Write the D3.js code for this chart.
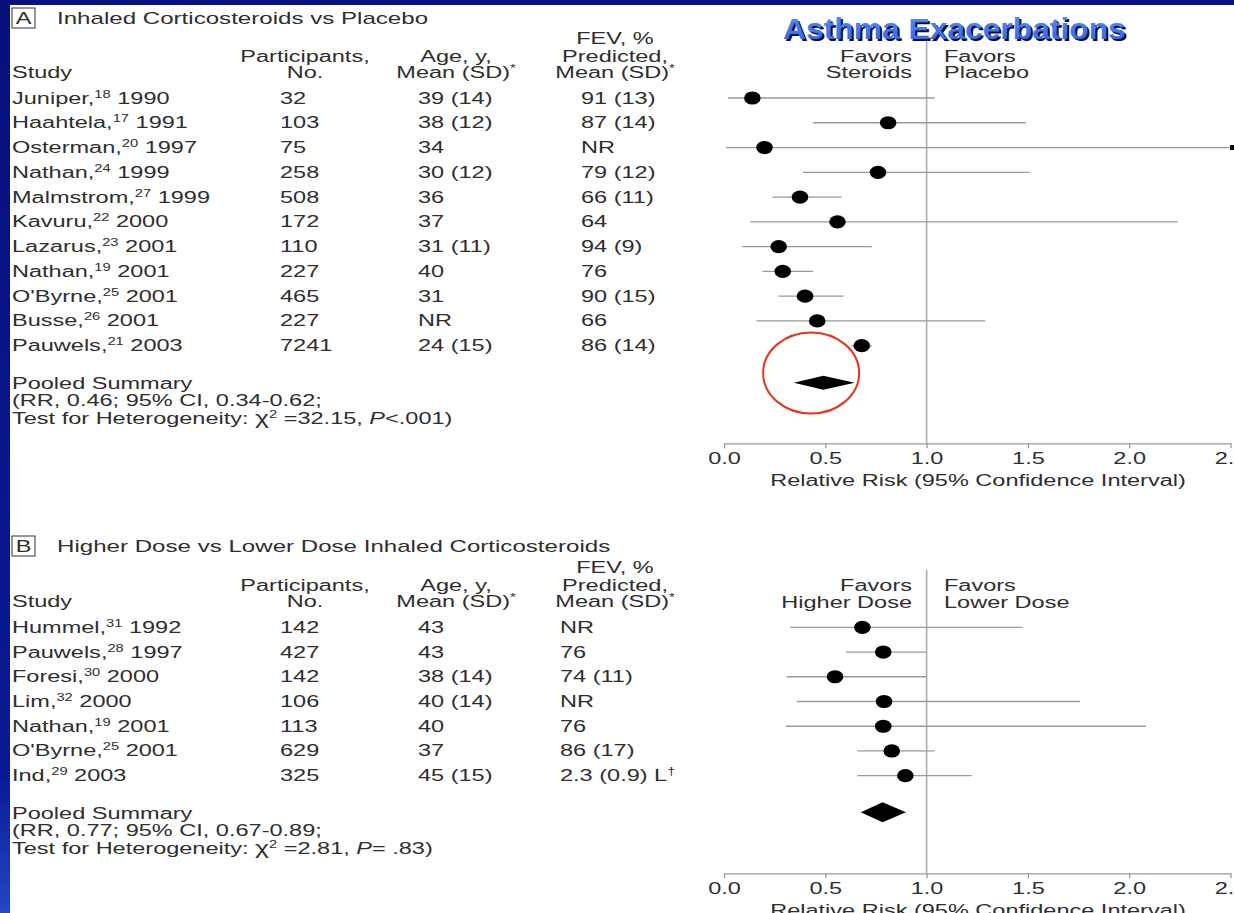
<!DOCTYPE html>
<html><head><meta charset="utf-8">
<script src="https://cdn.jsdelivr.net/npm/d3@7"></script>
<style>html,body{margin:0;padding:0;background:#fff;overflow:hidden}</style>
</head><body>
<svg id="c" width="1234" height="913"></svg>
<script>
// ---------------- DATA ----------------
const studiesA = ["Juniper","Haahtela","Osterman","Nathan","Malmstrom","Kavuru","Lazarus","Nathan","O'Byrne","Busse","Pauwels"];
const refsA = ["18","17","20","24","27","22","23","19","25","26","21"];
const yearsA = ["1990","1991","1997","1999","1999","2000","2001","2001","2001","2001","2003"];
const participantsA = ["32","103","75","258","508","172","110","227","465","227","7241"];
const ageA = ["39 (14)","38 (12)","34","30 (12)","36","37","31 (11)","40","31","NR","24 (15)"];
const fevA = ["91 (13)","87 (14)","NR","79 (12)","66 (11)","64","94 (9)","76","90 (15)","66","86 (14)"];
const rrA = [0.14,0.81,0.20,0.76,0.375,0.56,0.27,0.29,0.40,0.46,0.68];
const loA = [0.02,0.44,0.01,0.39,0.24,0.13,0.09,0.19,0.27,0.16,0.63];
const hiA = [1.04,1.49,2.60,1.51,0.58,2.24,0.73,0.44,0.59,1.29,0.73];
const pooledA = [0.345,0.49,0.645]; // lo, point, hi as drawn
const pooledTextA = ["Pooled Summary","(RR, 0.46; 95% CI, 0.34-0.62;"];
const hetA = ["32.15","<.001)"];

const studiesB = ["Hummel","Pauwels","Foresi","Lim","Nathan","O'Byrne","Ind"];
const refsB = ["31","28","30","32","19","25","29"];
const yearsB = ["1992","1997","2000","2000","2001","2001","2003"];
const participantsB = ["142","427","142","106","113","629","325"];
const ageB = ["43","43","38 (14)","40 (14)","40","37","45 (15)"];
const fevB = ["NR","76","74 (11)","NR","76","86 (17)","2.3 (0.9) L"];
const fevSupB = ["","","","","","","\u2020"];
const rrB = [0.683,0.786,0.548,0.79,0.786,0.828,0.895];
const loB = [0.326,0.602,0.31,0.359,0.306,0.658,0.658];
const hiB = [1.474,1.00,1.00,1.757,2.083,1.04,1.223];
const pooledB = [0.675,0.783,0.898];
const pooledTextB = ["Pooled Summary","(RR, 0.77; 95% CI, 0.67-0.89;"];
const hetB = ["2.81","= .83)"];

const tickValues = [0,0.5,1.0,1.5,2.0,2.5];
const axisTitle = "Relative Risk (95% Confidence Interval)";
const mainTitle = "Asthma Exacerbations";

// ---------------- SETUP ----------------
const W = 1234, H = 913;
const SX = 1.47, FS = 16, INK = "#2e2e2e", FONT = "'Liberation Sans', Arial, Helvetica, sans-serif";
const svg = d3.select("#c").attr("font-family", FONT);

const defs = svg.append("defs");
const lg = defs.append("linearGradient").attr("id","side").attr("x1",0).attr("y1",0).attr("x2",0).attr("y2",1);
lg.append("stop").attr("offset","0%").attr("stop-color","#06107a");
lg.append("stop").attr("offset","85%").attr("stop-color","#0a1a92");
lg.append("stop").attr("offset","100%").attr("stop-color","#2447c4");
const tg = defs.append("linearGradient").attr("id","ttl").attr("x1",0).attr("y1",0).attr("x2",0).attr("y2",1);
tg.append("stop").attr("offset","0%").attr("stop-color","#5a90ff");
tg.append("stop").attr("offset","100%").attr("stop-color","#2b5fe6");

svg.append("rect").attr("width",W).attr("height",H).attr("fill","#fff");
svg.append("rect").attr("x",0).attr("y",0).attr("width",W).attr("height",5).attr("fill","#07127c");
svg.append("rect").attr("x",0).attr("y",0).attr("width",10).attr("height",H).attr("fill","url(#side)");

const x = d3.scaleLinear().domain([0,2.5]).range([724,1230.5]);

function label(g, px, py, parts, anchor, fs) {
  const t = g.append("text")
    .attr("transform", `translate(${px},${py}) scale(${SX},1)`)
    .attr("text-anchor", anchor || "start")
    .attr("font-size", fs || FS).attr("fill", INK);
  let shift = 0;
  parts.forEach(p => {
    const o = (typeof p === "string") ? {t:p} : p;
    const s = o.sup ? -6 : 0;
    const ts = t.append("tspan").attr("dy", s - shift).text(o.t);
    if (o.sup) ts.attr("font-size", 10);
    if (o.it) ts.attr("font-style", "italic");
    if (o.big) ts.attr("font-size", 18);
    shift = s;
  });
  return t;
}

function panel(cfg) {
  const g = svg.append("g");
  const b = 5.5; // center -> baseline
  // panel heading box
  g.append("rect").attr("x",12).attr("y",cfg.titleY-10).attr("width",23).attr("height",20)
    .attr("fill","none").attr("stroke","#333").attr("stroke-width",1);
  label(g, 23.5, cfg.titleY+b, [cfg.letter], "middle");
  label(g, 57, cfg.titleY+b, [cfg.title], "start", 16.4);
  // column headers
  const [h1,h2,h3] = cfg.head;
  label(g, 12, h3+b, ["Study"]);
  label(g, 305, h2+b, ["Participants,"], "middle");
  label(g, 305, h3+b, ["No."], "middle");
  label(g, 456, h2+b, ["Age, y,"], "middle");
  label(g, 456, h3+b, ["Mean (SD)", {t:"*", sup:true}], "middle");
  label(g, 615, h1+b, ["FEV, %"], "middle");
  label(g, 615, h2+b, ["Predicted,"], "middle");
  label(g, 615, h3+b, ["Mean (SD)", {t:"*", sup:true}], "middle");
  // favors
  label(g, 912, cfg.fav[0]+b, ["Favors"], "end");
  label(g, 912, cfg.fav[1]+b, [cfg.favL], "end");
  label(g, 944, cfg.fav[0]+b, ["Favors"]);
  label(g, 944, cfg.fav[1]+b, [cfg.favR]);

  const n = cfg.studies.length;
  const y = d3.scaleLinear().domain([0,n-1]).range(cfg.rows);
  for (let i=0;i<n;i++){
    const yy = y(i)+b;
    label(g, 12, yy, [cfg.studies[i]+",", {t:cfg.refs[i], sup:true}, " "+cfg.years[i]]);
    label(g, 280, yy, [cfg.part[i]]);
    label(g, 418, yy, [cfg.age[i]]);
    const fp = [cfg.fev[i]];
    if (cfg.fevSup && cfg.fevSup[i]) fp.push({t:cfg.fevSup[i], sup:true});
    label(g, cfg.fevX, yy, fp);
  }
  // pooled summary text
  label(g, 12, cfg.pooledY[0]+b, [cfg.pooledText[0]]);
  label(g, 12, cfg.pooledY[1]+b, [cfg.pooledText[1]]);
  label(g, 12, cfg.pooledY[2]+b, ["Test for Heterogeneity: ", {t:"\u03C7", big:true}, {t:"2", sup:true}, " =" + cfg.het[0] + ", ", {t:"P", it:true}, cfg.het[1]]);

  // reference line at 1.0
  g.append("line").attr("x1",x(1)).attr("x2",x(1)).attr("y1",cfg.refTop).attr("y2",cfg.axisY)
    .attr("stroke","#adadad").attr("stroke-width",1.6);

  // CIs and points
  const xmax = x.domain()[1];
  for (let i=0;i<n;i++){
    const yy = y(i);
    const hiC = Math.min(cfg.hi[i], xmax);
    const xr = cfg.hi[i] > xmax ? x(xmax)+1.5 : x(hiC);
    g.append("line").attr("x1",x(cfg.lo[i])).attr("x2",xr).attr("y1",yy).attr("y2",yy)
      .attr("stroke","#9a9a9a").attr("stroke-width",1.3);
    if (cfg.hi[i] > xmax) {
      g.append("rect").attr("x",xr-2).attr("y",yy-2.5).attr("width",4).attr("height",5).attr("fill","#000");
    }
    g.append("ellipse").attr("cx",x(cfg.rr[i])).attr("cy",yy).attr("rx",8.3).attr("ry",6.6).attr("fill","#000");
  }
  // pooled diamond
  const [pl,pp,ph] = cfg.pooled, dy = cfg.pooledDY, dh = cfg.diamondH;
  g.append("path").attr("d", `M${x(pl)},${dy}L${x(pp)},${dy-dh}L${x(ph)},${dy}L${x(pp)},${dy+dh}Z`).attr("fill","#000");

  // axis
  const axis = d3.axisBottom(x).tickValues(tickValues).tickFormat(d3.format(".1f"))
    .tickSizeInner(5).tickSizeOuter(0).tickPadding(4);
  const ga = g.append("g").attr("transform",`translate(0,${cfg.axisY})`).call(axis);
  ga.select(".domain").attr("stroke","#9a9a9a").attr("stroke-width",1.3);
  ga.selectAll(".tick line").attr("stroke","#9a9a9a").attr("stroke-width",1.3);
  ga.selectAll(".tick text").attr("font-size",FS).attr("fill",INK).attr("font-family",FONT)
    .attr("transform",`scale(${SX},1)`);
  label(g, 978, cfg.axisY+36.7+b, [axisTitle], "middle");
  return g;
}

panel({letter:"A", title:"Inhaled Corticosteroids vs Placebo", titleY:18,
  head:[38,56,72], fav:[56,72], favL:"Steroids", favR:"Placebo",
  studies:studiesA, refs:refsA, years:yearsA, part:participantsA, age:ageA, fev:fevA, fevX:581,
  rows:[98,345.7], rr:rrA, lo:loA, hi:hiA, pooled:pooledA, pooledDY:382.7, diamondH:7,
  pooledText:pooledTextA, het:hetA, pooledY:[383,400.5,418], refTop:40, axisY:443.3});

panel({letter:"B", title:"Higher Dose vs Lower Dose Inhaled Corticosteroids", titleY:546,
  head:[567,585,601], fav:[585,602], favL:"Higher Dose", favR:"Lower Dose",
  studies:studiesB, refs:refsB, years:yearsB, part:participantsB, age:ageB, fev:fevB, fevSup:fevSupB, fevX:560,
  rows:[627.3,775.7], rr:rrB, lo:loB, hi:hiB, pooled:pooledB, pooledDY:812.3, diamondH:10,
  pooledText:pooledTextB, het:hetB, pooledY:[813,830.5,848], refTop:570, axisY:873.3});

// red highlight circle around pooled estimate of panel A
svg.append("ellipse").attr("cx",x(0.43)).attr("cy",373).attr("rx",48).attr("ry",40.5)
  .attr("fill","none").attr("stroke","#e8341c").attr("stroke-width",2);

// main title with shadow
const tt = svg.append("g");
tt.append("text").attr("transform","translate(785,41) scale(1.06,1)")
  .attr("font-size",30).attr("font-weight","bold").attr("fill","#0d0d3a").text(mainTitle);
tt.append("text").attr("transform","translate(783,39) scale(1.06,1)")
  .attr("font-size",30).attr("font-weight","bold").attr("fill","url(#ttl)").text(mainTitle);
</script>
</body></html>
